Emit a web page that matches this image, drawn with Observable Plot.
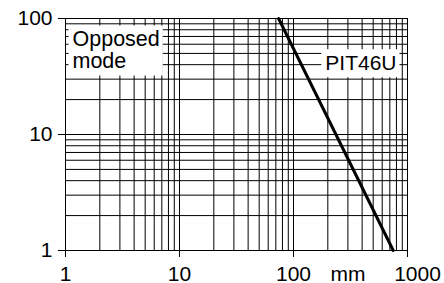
<!DOCTYPE html>
<html><head><meta charset="utf-8">
<script src="https://cdn.jsdelivr.net/npm/d3@7"></script>
<script src="https://cdn.jsdelivr.net/npm/@observablehq/plot@0.6"></script>
<style>html,body{margin:0;padding:0;background:#fff} svg{display:block}</style>
</head><body><div id="chart"></div>
<script>
// grid values (log decades and their subdivisions)
const xGrid = [1,2,3,4,5,6,7,8,9,10,20,30,40,50,60,70,80,90,100,200,300,400,500,600,700,800,900,1000];
const yGrid = [1,2,3,4,5,6,7,8,9,10,20,30,40,50,60,70,80,90,100];
// axis ticks and labels
const xTicks = [1,10,100,1000];
const yTicks = [1,10,100];
const xLabelValues = [1,10,100,300];
const xLabels = ["1","10","100","mm"];
const xLastValue = [1000];
const xLastLabel = ["1000"];
// series: distance (mm) vs excess gain
const seriesX = [74, 750];
const seriesY = [100, 1];
const seriesName = "PIT46U";
const modeLabel = "Opposed\nmode";

const lineData = seriesX.map((x, i) => ({x, y: seriesY[i]}));
const font = "'Liberation Sans', Arial, Helvetica, sans-serif";

const chart = Plot.plot({
  width: 444,
  height: 283,
  marginLeft: 65,
  marginRight: 37,
  marginTop: 18,
  marginBottom: 33,
  x: {type: "log", domain: [1, 1000], axis: null},
  y: {type: "log", domain: [1, 100], axis: null},
  style: {fontFamily: font, fontSize: "21px", background: "white", color: "#000"},
  marks: [
    Plot.ruleX(xGrid, {stroke: "#000", strokeWidth: 1}),
    Plot.ruleY(yGrid, {stroke: "#000", strokeWidth: 1}),
    Plot.text([modeLabel], {frameAnchor: "top-left", textAnchor: "start", lineAnchor: "top", dx: 7, dy: 13, lineHeight: 0.98, fontSize: 21.5, fill: "#000"}),
    Plot.text([seriesName], {frameAnchor: "top-right", textAnchor: "end", lineAnchor: "middle", dx: -11, dy: 45, fontSize: 21, fill: "#000"}),
    Plot.line(lineData, {x: "x", y: "y", stroke: "#000", strokeWidth: 3}),
    Plot.axisX({ticks: xTicks, tickSize: 7, tickFormat: () => "", label: null, stroke: "#000"}),
    Plot.axisY({ticks: yTicks, tickSize: 7, tickPadding: 6, tickFormat: d => String(d), label: null, fontSize: 21, stroke: "#000", fill: "#000"}),
    Plot.text(xLabels, {x: (d, i) => xLabelValues[i], frameAnchor: "bottom", lineAnchor: "top", dy: 16, fontSize: 21, fill: "#000"}),
    Plot.text(xLastLabel, {x: (d, i) => xLastValue[i], frameAnchor: "bottom", lineAnchor: "top", dy: 16, dx: 10, fontSize: 21, fill: "#000"})
  ]
});
document.getElementById("chart").appendChild(chart);

// white boxes behind annotation labels, sized from the rendered text
const boxed = new Set([seriesName, modeLabel.replace(/\n/g, "")]);
chart.querySelectorAll("text").forEach(t => {
  if (!boxed.has(t.textContent.replace(/\s/g, ""))) return;
  const b = t.getBBox();
  const r = document.createElementNS("http://www.w3.org/2000/svg", "rect");
  r.setAttribute("x", b.x - 4);
  r.setAttribute("y", b.y - 2);
  r.setAttribute("width", b.width + 7);
  r.setAttribute("height", b.height + 5);
  r.setAttribute("fill", "white");
  r.setAttribute("stroke", "none");
  const tr = t.getAttribute("transform");
  if (tr) r.setAttribute("transform", tr);
  t.parentNode.insertBefore(r, t);
});
</script>
</body></html>
